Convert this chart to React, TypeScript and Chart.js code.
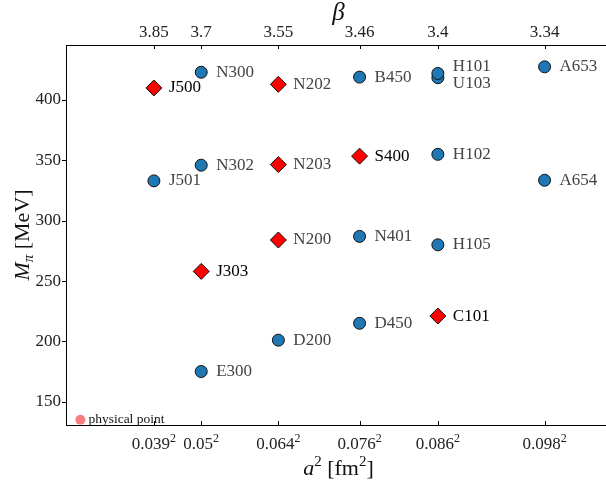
import React, { useEffect, useRef } from 'react';
import { Chart, registerables } from 'chart.js';

Chart.register(...registerables);

// ---- data ----
const latticeSpacings = [0.039, 0.05, 0.064, 0.076, 0.086, 0.098]; // fm
const a2TickLabels = ['0.039', '0.05', '0.064', '0.076', '0.086', '0.098']; // each shown squared
const betaTickLabels = ['3.85', '3.7', '3.55', '3.46', '3.4', '3.34'];
const mpiTicks = [150, 200, 250, 300, 350, 400];

const blueNames = ['N300', 'B450', 'U103', 'H101', 'A653', 'J501', 'N302', 'H102', 'A654', 'N401', 'H105', 'D200', 'D450', 'E300'];
const blueA = [0.05, 0.076, 0.086, 0.086, 0.098, 0.039, 0.05, 0.086, 0.098, 0.076, 0.086, 0.064, 0.076, 0.05];
const blueMpi = [423, 419, 418.5, 422, 427.5, 333, 346, 355, 333.5, 287, 280, 201, 215, 175];

const redNames = ['J500', 'N202', 'N203', 'S400', 'N200', 'J303', 'C101'];
const redA = [0.039, 0.064, 0.064, 0.076, 0.064, 0.05, 0.086];
const redMpi = [410, 413, 346.5, 353.5, 284, 258, 221];

const physNames = ['physical point'];
const physA2 = [0];
const physMpi = [135];

// ---- styles ----
const FONT = '"Liberation Serif", "DejaVu Serif", serif';
const blackLabels = ['J500', 'S400', 'J303', 'C101'];
const labelNudge: Record<string, number> = { H101: -7, U103: 6 };

const X_MIN = -0.0002976;
const X_MAX = 0.010978;
const Y_MIN = 130.7;
const Y_MAX = 445.6;

const a2Ticks = latticeSpacings.map((a) => a * a);

const datasetNames = [blueNames, redNames, physNames];

const pointLabelPlugin = {
  id: 'pointLabels',
  afterDatasetsDraw(chart: any) {
    const ctx = chart.ctx as CanvasRenderingContext2D;
    ctx.save();
    ctx.textAlign = 'left';
    ctx.textBaseline = 'middle';
    datasetNames.forEach((names, di) => {
      const meta = chart.getDatasetMeta(di);
      meta.data.forEach((el: any, i: number) => {
        const name = names[i];
        if (di === 2) {
          ctx.font = `13.5px ${FONT}`;
          ctx.fillStyle = '#111';
          ctx.fillText(name, el.x + 8, el.y);
          return;
        }
        ctx.font = `17px ${FONT}`;
        ctx.fillStyle = blackLabels.includes(name) ? '#000' : '#444';
        ctx.fillText(name, el.x + 15, el.y + (labelNudge[name] || 0));
      });
    });
    ctx.restore();
  },
};

type Part = { t: string; size: number; italic?: boolean; dy?: number };

function drawParts(ctx: CanvasRenderingContext2D, parts: Part[], cx: number, baseY: number) {
  let total = 0;
  const widths = parts.map((p) => {
    ctx.font = `${p.italic ? 'italic ' : ''}${p.size}px ${FONT}`;
    const w = ctx.measureText(p.t).width;
    total += w;
    return w;
  });
  let x = cx - total / 2;
  ctx.textAlign = 'left';
  ctx.textBaseline = 'alphabetic';
  parts.forEach((p, i) => {
    ctx.font = `${p.italic ? 'italic ' : ''}${p.size}px ${FONT}`;
    ctx.fillText(p.t, x, baseY + (p.dy || 0));
    x += widths[i];
  });
}

const axesDecorPlugin = {
  id: 'axesDecor',
  afterDraw(chart: any) {
    const ctx = chart.ctx as CanvasRenderingContext2D;
    const area = chart.chartArea;
    const xs = chart.scales.x;
    const ys = chart.scales.y;
    ctx.save();
    ctx.strokeStyle = '#000';
    ctx.lineWidth = 1;
    ctx.beginPath();
    a2Ticks.forEach((v) => {
      const px = Math.round(xs.getPixelForValue(v)) + 0.5;
      ctx.moveTo(px, area.bottom);
      ctx.lineTo(px, area.bottom - 4);
      ctx.moveTo(px, area.top);
      ctx.lineTo(px, area.top + 4);
    });
    mpiTicks.forEach((v) => {
      const py = Math.round(ys.getPixelForValue(v)) + 0.5;
      ctx.moveTo(area.left, py);
      ctx.lineTo(area.left - 4, py);
    });
    ctx.stroke();

    // bottom tick labels with superscript 2
    ctx.fillStyle = '#222';
    a2Ticks.forEach((v, i) => {
      const px = xs.getPixelForValue(v);
      drawParts(ctx, [
        { t: a2TickLabels[i], size: 17 },
        { t: '2', size: 12, dy: -7 },
      ], px, area.bottom + 24);
    });

    ctx.fillStyle = '#111';
    const cx = (area.left + area.right) / 2;
    // top title
    ctx.font = `italic 25px ${FONT}`;
    ctx.textAlign = 'center';
    ctx.textBaseline = 'middle';
    ctx.fillText('β', cx, 13);
    // bottom title
    drawParts(ctx, [
      { t: 'a', size: 22, italic: true },
      { t: '2', size: 15, dy: -9 },
      { t: ' [fm', size: 22 },
      { t: '2', size: 15, dy: -9 },
      { t: ']', size: 22 },
    ], cx, 475);
    // left title
    ctx.save();
    ctx.translate(29, (area.top + area.bottom) / 2);
    ctx.rotate(-Math.PI / 2);
    drawParts(ctx, [
      { t: 'M', size: 22, italic: true },
      { t: 'π', size: 15, italic: true, dy: 4 },
      { t: ' [MeV]', size: 22 },
    ], 0, 0);
    ctx.restore();
    ctx.restore();
  },
};

export default function App() {
  const ref = useRef<HTMLCanvasElement>(null);

  useEffect(() => {
    const canvas = ref.current;
    if (!canvas) return;
    const tickFont = { family: FONT, size: 17, lineHeight: 1.2 };
    const chart = new Chart(canvas, {
      type: 'scatter',
      data: {
        datasets: [
          {
            label: 'blue',
            data: blueA.map((a, i) => ({ x: a * a, y: blueMpi[i] })),
            pointStyle: 'circle',
            pointRadius: 6,
            pointBackgroundColor: '#1f77b4',
            pointBorderColor: '#111',
            pointBorderWidth: 1,
            xAxisID: 'x',
            yAxisID: 'y',
          },
          {
            label: 'red',
            data: redA.map((a, i) => ({ x: a * a, y: redMpi[i] })),
            pointStyle: 'rectRot',
            pointRadius: 8,
            pointBackgroundColor: '#ff0000',
            pointBorderColor: '#111',
            pointBorderWidth: 1,
            xAxisID: 'x',
            yAxisID: 'y',
          },
          {
            label: 'physical',
            data: physA2.map((x, i) => ({ x, y: physMpi[i] })),
            pointStyle: 'circle',
            pointRadius: 5,
            pointBackgroundColor: '#f77f7f',
            pointBorderWidth: 0,
            xAxisID: 'x',
            yAxisID: 'y',
          },
        ],
      },
      options: {
        animation: false,
        responsive: false,
        devicePixelRatio: 1,
        events: [],
        layout: { padding: { left: 0, right: 8, top: 0, bottom: 0 } },
        plugins: {
          legend: { display: false },
          tooltip: { enabled: false },
        },
        scales: {
          x: {
            type: 'linear',
            position: 'bottom',
            min: X_MIN,
            max: X_MAX,
            afterBuildTicks: (s: any) => {
              s.ticks = a2Ticks.map((v) => ({ value: v }));
            },
            afterFit: (s: any) => {
              s.height = 63;
            },
            ticks: { display: false },
            grid: { display: false, drawTicks: false },
            border: { display: true, color: '#000', width: 1 },
          },
          x2: {
            type: 'linear',
            position: 'top',
            min: X_MIN,
            max: X_MAX,
            afterBuildTicks: (s: any) => {
              s.ticks = a2Ticks.map((v) => ({ value: v }));
            },
            afterFit: (s: any) => {
              s.height = 45;
            },
            ticks: {
              autoSkip: false,
              maxRotation: 0,
              minRotation: 0,
              padding: 2,
              color: '#222',
              font: tickFont,
              callback: (_v: any, i: number) => betaTickLabels[i],
            },
            grid: { display: false, drawTicks: false },
            border: { display: true, color: '#000', width: 1 },
          },
          y: {
            type: 'linear',
            position: 'left',
            min: Y_MIN,
            max: Y_MAX,
            afterBuildTicks: (s: any) => {
              s.ticks = mpiTicks.map((v) => ({ value: v }));
            },
            afterFit: (s: any) => {
              s.width = 66;
            },
            ticks: {
              padding: 5,
              color: '#222',
              font: tickFont,
              callback: (v: any) => String(v),
            },
            grid: { display: false, drawTicks: false },
            border: { display: true, color: '#000', width: 1 },
          },
        },
      },
      plugins: [pointLabelPlugin, axesDecorPlugin],
    } as any);
    return () => chart.destroy();
  }, []);

  return (
    <div
      style={{
        position: 'absolute',
        left: 0,
        top: 0,
        width: 606,
        height: 488,
        overflow: 'hidden',
        background: '#fff',
      }}
    >
      <canvas ref={ref} width={620} height={488} style={{ display: 'block', width: '620px', height: '488px' }} />
    </div>
  );
}
